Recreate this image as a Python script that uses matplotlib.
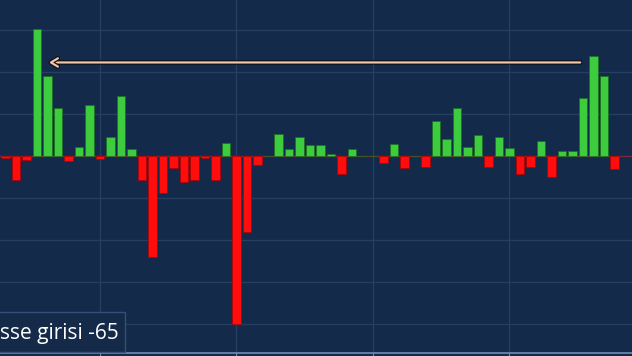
import numpy as np
import matplotlib
matplotlib.use("Agg")
import matplotlib.pyplot as plt
import matplotlib.patheffects as pe
from matplotlib.patches import Rectangle

# Weekly flows, one bar per week
flows = [
    -0.8, -9.1, -1.5, 48.4, 30.5, 18.3, -1.9, 3.4, 19.4, -1.1,
    7.2, 22.9, 2.7, -9.1, -38.5, -14.1, -4.6, -9.9, -9.1, -0.8,
    -9.1, 5.0, -64.0, -29.0, -3.6, 0.0, 8.4, 2.7, 7.2, 4.2,
    4.2, 0.6, -7.0, 2.7, 0.0, 0.0, -2.7, 4.4, -4.6, 0.0,
    -4.2, 13.3, 6.5, 18.3, 3.4, 8.0, -4.2, 7.2, 3.0, -6.9,
    -4.2, 5.7, -8.0, 1.9, 1.9, 22.1, 38.1, 30.5, -5.0,
]
label_text = "sse girisi -65"

# arrow from the latest peak back to the earlier one
arrow_from = 55.0
arrow_to = 3.86
arrow_level = 35.6

BG = "#132a4a"
GRID = "#263f61"
GREEN = "#3dcc3d"
RED = "#ff0d0d"

fig = plt.figure(figsize=(6.32, 3.56), dpi=100)
fig.patch.set_facecolor(BG)
ax = fig.add_axes([0, 3.5 / 356, 1, 1 - 3.5 / 356])
ax.set_facecolor(BG)

x = np.arange(len(flows))
vals = np.array(flows)
colors = [GREEN if v >= 0 else RED for v in vals]
edges = ["#1d6e1d" if v >= 0 else "#b00000" for v in vals]
ax.bar(x, vals, width=0.8, color=colors, edgecolor=edges, linewidth=0.5, zorder=3)
ax.axhline(0, color="#7a2a3a", lw=0.8, zorder=2)

ax.set_xlim(-0.524, 59.67)
ax.set_ylim(-74.9, 59.4)
ax.set_yticks(np.arange(-64, 60, 16))
ax.set_xticks([9, 22, 35, 48])
ax.grid(True, color=GRID, lw=1.0, zorder=0)
ax.tick_params(axis="y", length=0, labelleft=False)
ax.tick_params(axis="x", direction="out", length=3, color="#6d8fb5", labelbottom=False)
for side in ["top", "left", "right"]:
    ax.spines[side].set_visible(False)
ax.spines["bottom"].set_color("#6d8fb5")
ax.spines["bottom"].set_linewidth(1.2)

ax.annotate("", xy=(arrow_to, arrow_level), xytext=(arrow_from, arrow_level),
            arrowprops=dict(arrowstyle="->,head_length=0.5,head_width=0.3",
                            color="#f4c4a4", lw=1.6,
                            path_effects=[pe.withStroke(linewidth=3.2, foreground="#0a0f1a")]),
            zorder=5)

# caption box, bottom left
fig.patches.append(Rectangle((-0.01, 4 / 356), 125 / 632 + 0.01, 40 / 356,
                             transform=fig.transFigure, facecolor="#142a48",
                             edgecolor="#34507a", lw=1.0, zorder=6))
fig.text(0.0, 17 / 356, label_text, color="white", fontsize=15,
         family=["Open Sans", "DejaVu Sans"], va="baseline", ha="left", zorder=7)

fig.savefig("out.png", dpi=100, facecolor=BG)
